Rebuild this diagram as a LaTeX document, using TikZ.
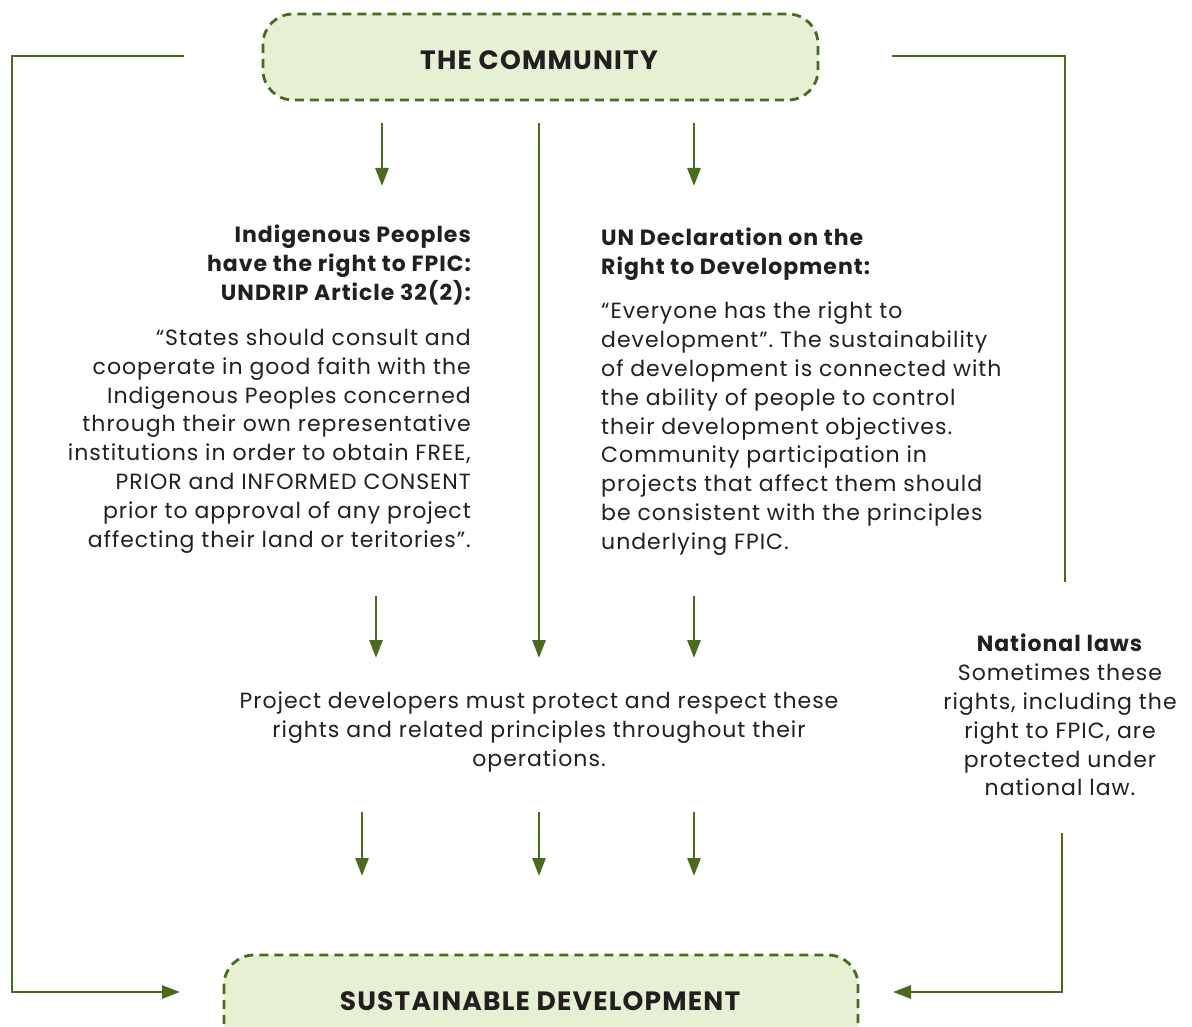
\documentclass[tikz,border=0pt]{standalone}
\usepackage{fontspec}
\setmainfont{Poppins}[LetterSpace=4.5]
\usetikzlibrary{arrows.meta}
\definecolor{lgreen}{HTML}{4A6B1E}
\definecolor{lfill}{HTML}{E6F0D3}
\definecolor{txt}{HTML}{231F20}
\frenchspacing
\tikzset{
  conn/.style={draw=lgreen, line width=2.8pt},
  arr/.style={conn, -{Triangle[length=18pt,width=13pt]}},
  boxx/.style={draw=lgreen, fill=lfill, line width=2.8pt, dash pattern=on 9pt off 6pt, rounded corners=30pt},
  bodytxt/.style={inner sep=0pt, text=txt, font=\fontsize{22}{28.8}\selectfont},
  headtxt/.style={inner sep=0pt, text=txt, font=\fontsize{22}{28.8}\selectfont\bfseries},
  boxtxt/.style={inner sep=0pt, text=txt, font=\fontsize{26.5}{30}\selectfont\bfseries},
}
\begin{document}
\begin{tikzpicture}[x=1pt,y=-1pt]
\clip (0,0) rectangle (1192,1027);
\fill[white] (0,0) rectangle (1192,1027);
% boxes
\draw[boxx] (263,14) rectangle (818,100);
\node[boxtxt] (comm) at (539,60) {THE COMMUNITY};
\draw[boxx] (224,955) rectangle (858,1060);
\node[boxtxt] (sust) at (540,1001) {SUSTAINABLE DEVELOPMENT};
% texts
\node[headtxt, anchor=north east, align=right] (lt) at (471,225) {Indigenous Peoples\\have the right to FPIC:\\UNDRIP Article 32(2):};
\node[bodytxt, anchor=north east, align=right] (lb) at (471,329) {“States should consult and\\cooperate in good faith with the\\Indigenous Peoples concerned\\through their own representative\\institutions in order to obtain FREE,\\PRIOR and INFORMED CONSENT\\prior to approval of any project\\affecting their land or teritories”.};
\node[headtxt, anchor=north west, align=left] (rt) at (601,228) {UN Declaration on the\\Right to Development:};
\node[bodytxt, anchor=north west, align=left] (rb) at (601,302) {“Everyone has the right to\\development”. The sustainability\\of development is connected with\\the ability of people to control\\their development objectives.\\Community participation in\\projects that affect them should\\be consistent with the principles\\underlying FPIC.};
\node[bodytxt, anchor=north, align=center] (mid) at (539,692) {Project developers must protect and respect these\\rights and related principles throughout their\\operations.};
\node[bodytxt, anchor=north, align=center] (nat) at (1060,634) {\textbf{National laws}\\Sometimes these\\rights, including the\\right to FPIC, are\\protected under\\national law.};
% coordinates
\coordinate (l0) at (184,56); \coordinate (l1) at (12,56); \coordinate (l2) at (12,992); \coordinate (l3) at (180,992);
\coordinate (r0) at (892,56); \coordinate (r1) at (1065,56); \coordinate (r2) at (1065,582);
\coordinate (s0) at (1062,833); \coordinate (s1) at (1062,992); \coordinate (s2) at (893,992);
\coordinate (a1s) at (382,123); \coordinate (a1e) at (382,186);
\coordinate (a2s) at (539,123); \coordinate (a2e) at (539,658);
\coordinate (a3s) at (694,123); \coordinate (a3e) at (694,186);
\coordinate (b1s) at (376,596); \coordinate (b1e) at (376,658);
\coordinate (b3s) at (694,596); \coordinate (b3e) at (694,658);
\coordinate (c1s) at (362,812); \coordinate (c1e) at (362,876);
\coordinate (c2s) at (539,812); \coordinate (c2e) at (539,876);
\coordinate (c3s) at (694,812); \coordinate (c3e) at (694,876);
% connectors
\draw[arr] (l0) -- (l1) -- (l2) -- (l3);
\draw[conn] (r0) -- (r1) -- (r2);
\draw[arr] (s0) -- (s1) -- (s2);
\foreach \p in {a1,a2,a3,b1,b3,c1,c2,c3} \draw[arr] (\p s) -- (\p e);
\end{tikzpicture}
\end{document}
